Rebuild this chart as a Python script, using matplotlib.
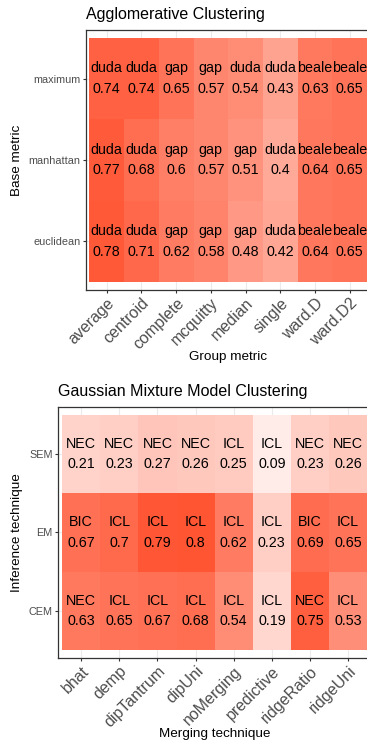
import numpy as np
import matplotlib
matplotlib.use("Agg")
import matplotlib.pyplot as plt
from matplotlib.colors import LinearSegmentedColormap
from matplotlib.transforms import ScaledTranslation

plt.rcParams['font.family'] = ['Liberation Sans', 'DejaVu Sans']

# top panel: agglomerative clustering
hc_cols = ["average", "centroid", "complete", "mcquitty", "median", "single", "ward.D", "ward.D2"]
hc_rows = ["euclidean", "manhattan", "maximum"]  # bottom to top
hc_vals = [
    [0.78, 0.71, 0.62, 0.58, 0.48, 0.42, 0.64, 0.65],
    [0.77, 0.68, 0.60, 0.57, 0.51, 0.40, 0.64, 0.65],
    [0.74, 0.74, 0.65, 0.57, 0.54, 0.43, 0.63, 0.65],
]
hc_best = [
    ["duda", "duda", "gap", "gap", "gap", "duda", "beale", "beale"],
    ["duda", "duda", "gap", "gap", "gap", "duda", "beale", "beale"],
    ["duda", "duda", "gap", "gap", "duda", "duda", "beale", "beale"],
]

# bottom panel: gaussian mixture model clustering
gmm_cols = ["bhat", "demp", "dipTantrum", "dipUni", "noMerging", "predictive", "ridgeRatio", "ridgeUni"]
gmm_rows = ["CEM", "EM", "SEM"]  # bottom to top
gmm_vals = [
    [0.63, 0.65, 0.67, 0.68, 0.54, 0.19, 0.75, 0.53],
    [0.67, 0.70, 0.79, 0.80, 0.62, 0.23, 0.69, 0.65],
    [0.21, 0.23, 0.27, 0.26, 0.25, 0.09, 0.23, 0.26],
]
gmm_best = [
    ["NEC", "ICL", "ICL", "ICL", "ICL", "ICL", "NEC", "ICL"],
    ["BIC", "ICL", "ICL", "ICL", "ICL", "ICL", "BIC", "ICL"],
    ["NEC", "NEC", "NEC", "NEC", "ICL", "ICL", "NEC", "NEC"],
]

cmap = LinearSegmentedColormap.from_list("wr", ["#FFFFFF", "#FF2A00"])


def heat(fig, ax, cols, rows, vals, best, title, xlab, ylab, ylab_x, xlab_y):
    vals = np.array(vals)
    nr, nc = vals.shape
    ax.pcolormesh(np.arange(nc + 1) - 0.5, np.arange(nr + 1) - 0.5, vals,
                  cmap=cmap, vmin=0, vmax=1, zorder=1)
    for i in range(nr):
        for j in range(nc):
            ax.text(j, i, f"{best[i][j]}\n{vals[i, j]:g}", ha="center", va="center",
                    fontsize=10.3, linespacing=1.6, color="black", zorder=3)
    ax.set_xlim(-0.6, nc - 0.4)
    ax.set_ylim(-0.6, nr - 0.4)
    ax.set_xticks(range(nc))
    ax.set_xticklabels(cols, rotation=45, ha="right", va="top", rotation_mode="anchor",
                       fontsize=11.5, color="#4D4D4D")
    # nudge rotated labels like ggplot's hjust=1
    off = ScaledTranslation(5 / 100, 3 / 100, fig.dpi_scale_trans)
    for lab in ax.get_xticklabels():
        lab.set_transform(lab.get_transform() + off)
    ax.set_yticks(range(nr))
    ax.set_yticklabels(rows, fontsize=7.8, color="#4D4D4D")
    ax.tick_params(length=2.4, width=0.8, color="#333333", pad=1.6)
    ax.set_axisbelow(True)
    ax.grid(True, color="#EBEBEB", lw=0.8)
    for s in ax.spines.values():
        s.set_color("#333333")
        s.set_linewidth(0.9)
    ax.set_title(title, loc="left", fontsize=11.5, pad=8)
    ax.set_xlabel(xlab, fontsize=9.7, va="top")
    ax.set_ylabel(ylab, fontsize=9.7)
    ax.xaxis.set_label_coords(0.5, xlab_y)
    ax.yaxis.set_label_coords(ylab_x, 0.5)


fig = plt.figure(figsize=(3.67, 7.45), dpi=100)
ax1 = fig.add_axes([86 / 367, 1 - 290 / 745, 284.4 / 367, 260 / 745])
ax2 = fig.add_axes([58.3 / 367, 1 - 658 / 745, 312.7 / 367, 251.3 / 745])

heat(fig, ax1, hc_cols, hc_rows, hc_vals, hc_best, "Agglomerative Clustering",
     "Group metric", "Base metric", -0.2215, -0.2346)
heat(fig, ax2, gmm_cols, gmm_rows, gmm_vals, gmm_best, "Gaussian Mixture Model Clustering",
     "Merging technique", "Inference technique", -0.113, -0.2786)

fig.savefig("out.png", dpi=100)
